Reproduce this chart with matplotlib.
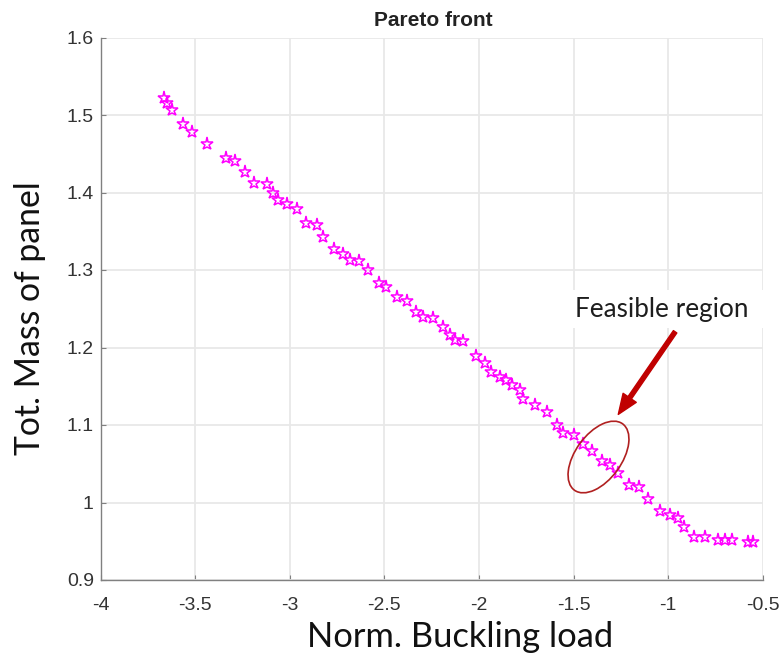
import matplotlib
matplotlib.use("Agg")
import matplotlib.pyplot as plt
from matplotlib.patches import Ellipse, Rectangle, FancyArrowPatch

# ---- data ----
norm_buckling = [-3.665, -3.651, -3.625, -3.566, -3.516, -3.440, -3.339, -3.290,
                 -3.237, -3.188, -3.119, -3.087, -3.061, -3.017, -2.964, -2.912,
                 -2.855, -2.823, -2.767, -2.717, -2.682, -2.634, -2.585, -2.527,
                 -2.492, -2.432, -2.382, -2.333, -2.298, -2.245, -2.189, -2.153,
                 -2.127, -2.083, -2.016, -1.968, -1.936, -1.889, -1.857, -1.827,
                 -1.783, -1.766, -1.704, -1.642, -1.589, -1.554, -1.498, -1.448,
                 -1.404, -1.351, -1.307, -1.263, -1.205, -1.152, -1.105, -1.043,
                 -0.990, -0.946, -0.916, -0.863, -0.805, -0.735, -0.699, -0.664,
                 -0.576, -0.550]
tot_mass = [1.5215, 1.515, 1.507, 1.489, 1.478, 1.462, 1.445, 1.441,
            1.427, 1.412, 1.411, 1.399, 1.390, 1.385, 1.379, 1.361,
            1.358, 1.343, 1.327, 1.321, 1.313, 1.311, 1.300, 1.283,
            1.278, 1.265, 1.260, 1.246, 1.240, 1.238, 1.226, 1.216,
            1.210, 1.208, 1.189, 1.180, 1.168, 1.162, 1.158, 1.152,
            1.145, 1.134, 1.126, 1.117, 1.100, 1.090, 1.087, 1.076,
            1.066, 1.054, 1.048, 1.038, 1.023, 1.020, 1.005, 0.989,
            0.984, 0.980, 0.969, 0.955, 0.955, 0.951, 0.951, 0.951,
            0.949, 0.949]

x_ticks = [-4, -3.5, -3, -2.5, -2, -1.5, -1, -0.5]
x_tick_labels = ["-4", "-3.5", "-3", "-2.5", "-2", "-1.5", "-1", "-0.5"]
y_ticks = [0.9, 1.0, 1.1, 1.2, 1.3, 1.4, 1.5, 1.6]
y_tick_labels = ["0.9", "1", "1.1", "1.2", "1.3", "1.4", "1.5", "1.6"]

title_text = "Pareto front"
x_label = "Norm. Buckling load"
y_label = "Tot. Mass of panel"
note_text = "Feasible region"

W, H = 783, 659
fig = plt.figure(figsize=(W / 100, H / 100), dpi=100)
fig.patch.set_facecolor("white")

def fx(px):
    return px / W

def fy(py):
    return (H - py) / H

ax = fig.add_axes([fx(100.7), fy(580), (762.7 - 100.7) / W, (580 - 37.5) / H])
ax.plot(norm_buckling, tot_mass, linestyle="none", marker="*", markersize=9.5,
        markerfacecolor="none", markeredgecolor="#ff00ff", markeredgewidth=1.1,
        zorder=3)

ax.set_xlim(-4, -0.5)
ax.set_ylim(0.9, 1.6)
ax.set_xticks(x_ticks)
ax.set_xticklabels(x_tick_labels)
ax.set_yticks(y_ticks)
ax.set_yticklabels(y_tick_labels)
ax.grid(True, color="#e8e8e8", linewidth=1.3, zorder=0)
ax.set_axisbelow(True)
for s in ["top", "right"]:
    ax.spines[s].set_visible(False)
for s in ["left", "bottom"]:
    ax.spines[s].set_color("#808080")
    ax.spines[s].set_linewidth(1.0)
ax.tick_params(direction="in", length=3.5, width=0.8, color="#808080",
               labelcolor="#333333", labelsize=14)
ax.tick_params(axis="y", pad=5.0)
ax.tick_params(axis="x", pad=12.5)
for lab in ax.get_xticklabels() + ax.get_yticklabels():
    lab.set_fontfamily(["Liberation Sans", "DejaVu Sans"])

# title
fig.text(fx(433), fy(20), title_text, ha="center", va="center",
         fontsize=15, fontweight="bold", color="#222222",
         family=["Liberation Sans Narrow", "Liberation Sans", "DejaVu Sans"])

# axis labels
fig.text(fx(30), fy(318), y_label, rotation=90, ha="center", va="center",
         fontsize=24.3, color="#111111", family=["Lato", "DejaVu Sans"])
fig.text(fx(460), fy(637), x_label, ha="center", va="center",
         fontsize=24.8, color="#111111", family=["Lato", "DejaVu Sans"])

# annotation box
fig.add_artist(Rectangle((fx(563), fy(328)), 200 / W, 38 / H,
                         transform=fig.transFigure, facecolor="white",
                         edgecolor="none", zorder=4))
fig.text(fx(575), fy(317), note_text, ha="left", va="baseline",
         fontsize=18.8, color="#1e1e1e", family=["Lato", "DejaVu Sans"],
         zorder=5)

# arrow
arrow = FancyArrowPatch((676.7 / 100, (H - 329.5) / 100),
                        (616.7 / 100, (H - 416.7) / 100),
                        transform=fig.dpi_scale_trans,
                        arrowstyle="simple,head_length=1.45,head_width=1.15,tail_width=0.3",
                        mutation_scale=10, color="#c00000", zorder=6)
fig.add_artist(arrow)

# ellipse
ell = Ellipse((598.5 / 100, (H - 457) / 100), 0.82, 0.46, angle=54,
              transform=fig.dpi_scale_trans, facecolor="none",
              edgecolor="#b02020", linewidth=1.2, zorder=6)
fig.add_artist(ell)

fig.savefig("out.png", dpi=100, facecolor="white")
